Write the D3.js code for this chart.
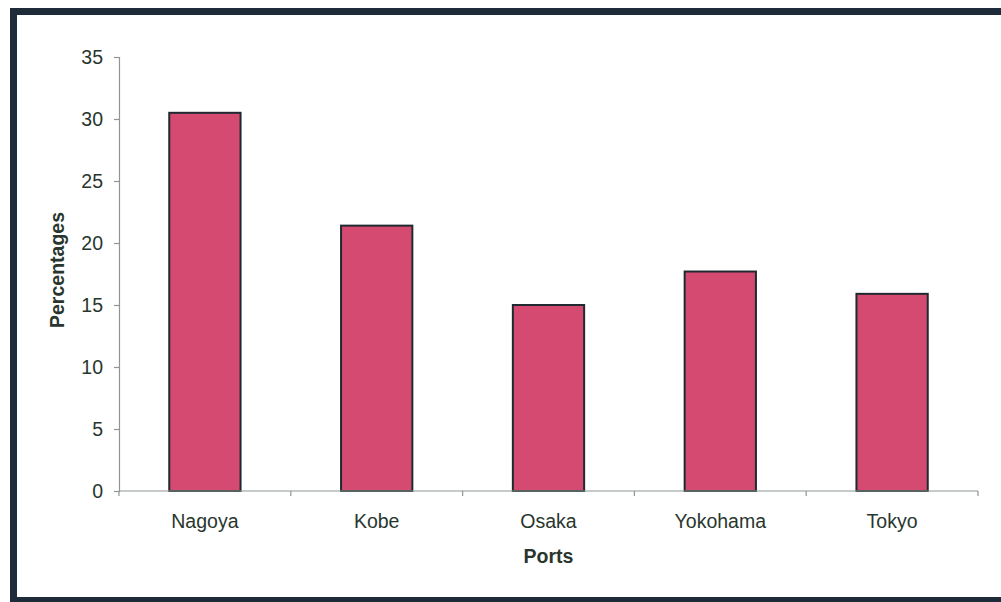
<!DOCTYPE html>
<html>
<head>
<meta charset="utf-8">
<script src="https://cdn.jsdelivr.net/npm/d3@7"></script>
<style>
  html, body { margin: 0; padding: 0; background: #ffffff; }
  svg { display: block; }
  text { font-family: Arial, "Liberation Sans", sans-serif; }
</style>
</head>
<body>
<svg id="chart" width="1001" height="602"></svg>
<script>
// Share of traffic by port (percent)
const ports = ["Nagoya", "Kobe", "Osaka", "Yokohama", "Tokyo"];
const percentages = [30.5, 21.4, 15.0, 17.7, 15.9];
const yTicks = [0, 5, 10, 15, 20, 25, 30, 35];

const svg = d3.select("#chart");
const W = 1001, H = 602;
const plot = { left: 119, right: 978, top: 57, bottom: 491 };
const fontSize = 19.5;

// Outer frame
svg.append("rect")
  .attr("x", 13.5).attr("y", 11.5)
  .attr("width", W + 10).attr("height", 589)
  .attr("fill", "#ffffff")
  .attr("stroke", "#1d2c38")
  .attr("stroke-width", 7);

const x = d3.scaleBand()
  .domain(ports)
  .range([plot.left, plot.right])
  .paddingInner(0.585)
  .paddingOuter(0.2925);

const y = d3.scaleLinear()
  .domain([0, 35])
  .range([plot.bottom, plot.top]);

const axisColor = "#8d978f";
const textColor = "#28362e";

// Y axis
const yAxis = svg.append("g")
  .attr("transform", `translate(${plot.left},0)`)
  .call(d3.axisLeft(y).tickValues(yTicks).tickSize(5).tickPadding(11));
yAxis.select(".domain").attr("stroke", axisColor).attr("stroke-width", 1.2);
yAxis.selectAll(".tick line").attr("stroke", axisColor).attr("stroke-width", 1.2);
yAxis.selectAll(".tick text")
  .attr("fill", textColor)
  .attr("font-size", fontSize)
  .attr("font-family", "Arial, 'Liberation Sans', sans-serif");

// Bars
svg.append("g")
  .selectAll("rect")
  .data(ports)
  .join("rect")
  .attr("x", d => x(d))
  .attr("y", (d, i) => y(percentages[i]))
  .attr("width", x.bandwidth())
  .attr("height", (d, i) => y(0) - y(percentages[i]))
  .attr("fill", "#d44a70")
  .attr("stroke", "#1f2a30")
  .attr("stroke-width", 2);

// X axis: tick marks at category boundaries
const xAxisG = svg.append("g");
xAxisG.append("line")
  .attr("x1", plot.left).attr("x2", plot.right)
  .attr("y1", plot.bottom).attr("y2", plot.bottom)
  .attr("stroke", axisColor).attr("stroke-width", 1.2);
const boundaries = ports.map(p => x(p) - x.step() * x.paddingOuter()).concat([plot.right]);
xAxisG.selectAll("line.b")
  .data(boundaries)
  .join("line")
  .attr("class", "b")
  .attr("x1", d => d).attr("x2", d => d)
  .attr("y1", plot.bottom).attr("y2", plot.bottom + 5)
  .attr("stroke", axisColor).attr("stroke-width", 1.2);
xAxisG.selectAll("text")
  .data(ports)
  .join("text")
  .attr("x", d => x(d) + x.bandwidth() / 2)
  .attr("y", 528)
  .attr("text-anchor", "middle")
  .attr("fill", textColor)
  .attr("font-size", fontSize)
  .text(d => d);

// Axis titles
svg.append("text")
  .attr("x", (plot.left + plot.right) / 2)
  .attr("y", 563)
  .attr("text-anchor", "middle")
  .attr("fill", textColor)
  .attr("font-size", fontSize)
  .attr("font-weight", "bold")
  .text("Ports");

svg.append("text")
  .attr("transform", `translate(64,270) rotate(-90)`)
  .attr("text-anchor", "middle")
  .attr("fill", textColor)
  .attr("font-size", fontSize)
  .attr("font-weight", "bold")
  .text("Percentages");
</script>
</body>
</html>
